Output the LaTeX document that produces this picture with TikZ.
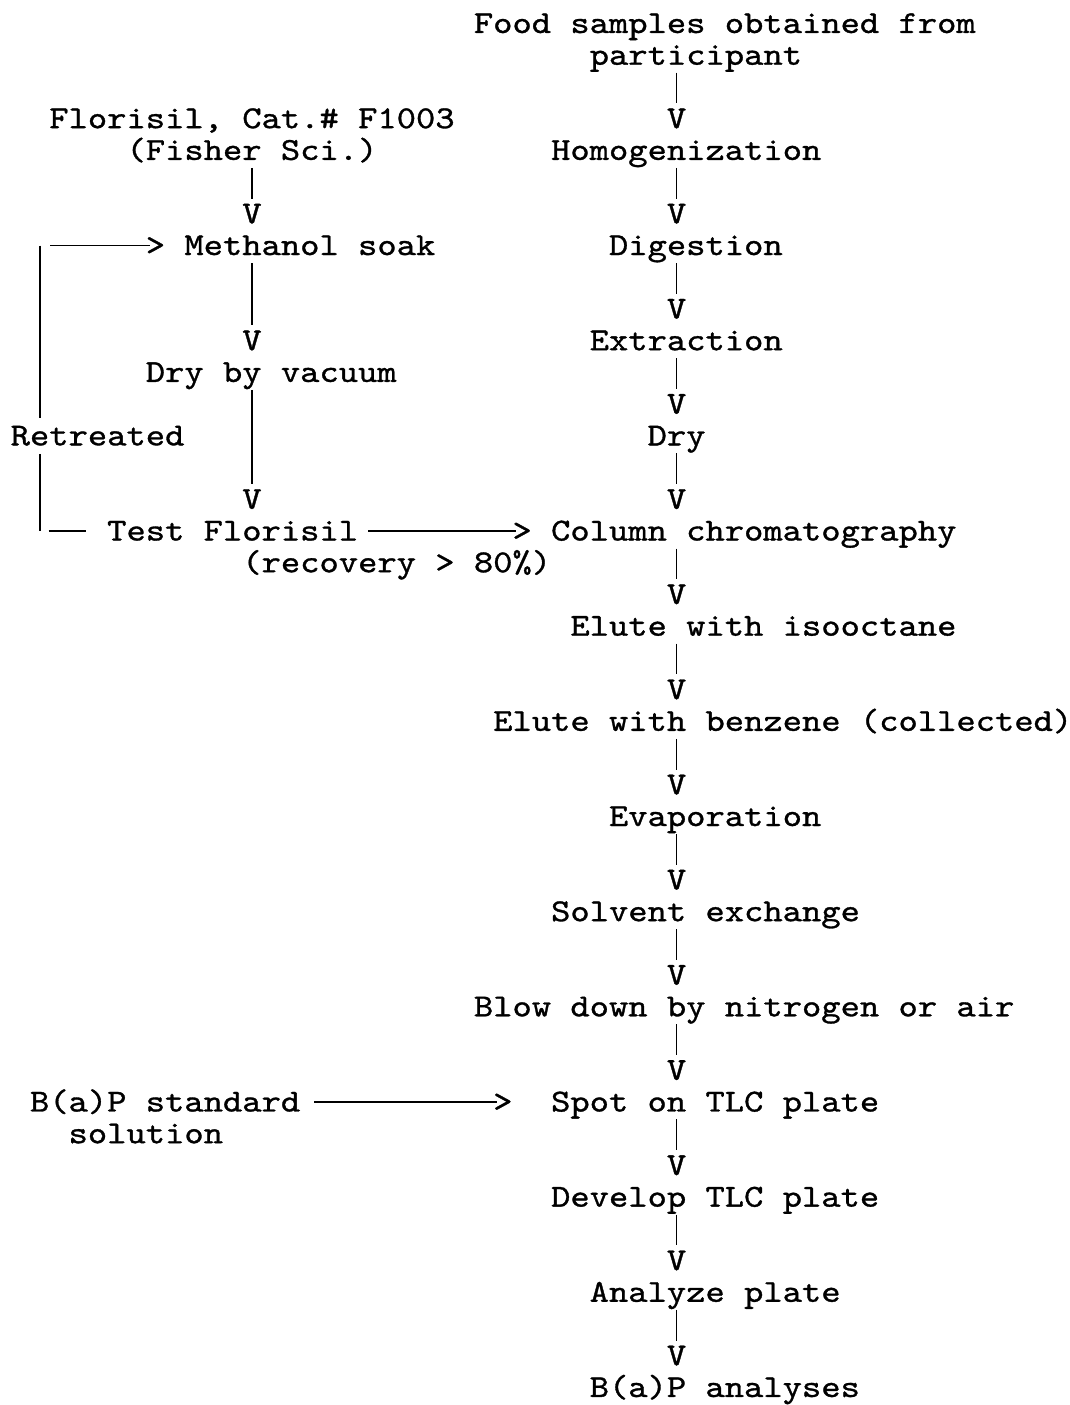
\documentclass[tikz,border=0pt]{standalone}
\usepackage{fontspec}
\usetikzlibrary{calc}
\newfontfamily\mono{lmmono10-regular.otf}[FakeStretch=1.149,FakeBold=1.0]
\newcommand\vconn[2]{\draw[ln] ($(#1.base -| #2.north)+(0pt,-8pt)$) -- ($(#2.north)+(0pt,5pt)$);}
\begin{document}
\begin{tikzpicture}[x=19.3pt,y=-31.72pt,
  t/.style={anchor=base west,inner sep=0pt,font=\mono\fontsize{32}{38}\selectfont},
  ln/.style={line width=1.8pt}]
\useasboundingbox (0pt,0pt) rectangle (1070pt,-1405pt);
\begin{scope}[shift={(10.5pt,-33pt)}]
% right column
\node[t] (food) at (24,0) {Food samples obtained from};
\node[t] (part) at (30,1) {participant};
\node[t] (v1) at (34,3) {V};
\node[t] (homo) at (28,4) {Homogenization};
\node[t] (v2) at (34,6) {V};
\node[t] (dig) at (31,7) {Digestion};
\node[t] (v3) at (34,9) {V};
\node[t] (ext) at (30,10) {Extraction};
\node[t] (v4) at (34,12) {V};
\node[t] (dry) at (33,13) {Dry};
\node[t] (v5) at (34,15) {V};
\node[t] (col) at (28,16) {Column chromatography};
\node[t] (v6) at (34,18) {V};
\node[t] (iso) at (29,19) {Elute with isooctane};
\node[t] (v7) at (34,21) {V};
\node[t] (benz) at (25,22) {Elute with benzene (collected)};
\node[t] (v8) at (34,24) {V};
\node[t] (evap) at (31,25) {Evaporation};
\node[t] (v9) at (34,27) {V};
\node[t] (solv) at (28,28) {Solvent exchange};
\node[t] (v10) at (34,30) {V};
\node[t] (blow) at (24,31) {Blow down by nitrogen or air};
\node[t] (v11) at (34,33) {V};
\node[t] (spot) at (28,34) {Spot on TLC plate};
\node[t] (v12) at (34,36) {V};
\node[t] (dev) at (28,37) {Develop TLC plate};
\node[t] (v13) at (34,39) {V};
\node[t] (ana) at (30,40) {Analyze plate};
\node[t] (v14) at (34,42) {V};
\node[t] (res) at (30,43) {B(a)P analyses};
% left column
\node[t] (flo) at (2,3) {Florisil, Cat.\# F1003};
\node[t] (fis) at (6,4) {(Fisher Sci.)};
\node[t] (lv1) at (12,6) {V};
\node[t] (gt1) at (7,7) {>};
\node[t] (meth) at (9,7) {Methanol soak};
\node[t] (lv2) at (12,10) {V};
\node[t] (vac) at (7,11) {Dry by vacuum};
\node[t,inner ysep=8pt] (ret) at (0,13) {Retreated};
\node[t] (lv3) at (12,15) {V};
\node[t] (tf) at (5,16) {Test Florisil};
\node[t] (gt2) at (26,16) {>};
\node[t] (rec) at (12,17) {(recovery > 80\%)};
\node[t] (bap) at (1,34) {B(a)P standard};
\node[t] (sol) at (3,35) {solution};
\node[t] (gt3) at (25,34) {>};
% vertical connectors
\vconn{part}{v1}
\vconn{homo}{v2}
\vconn{dig}{v3}
\vconn{ext}{v4}
\vconn{dry}{v5}
\vconn{col}{v6}
\vconn{iso}{v7}
\vconn{benz}{v8}
\vconn{evap}{v9}
\vconn{solv}{v10}
\vconn{blow}{v11}
\vconn{spot}{v12}
\vconn{dev}{v13}
\vconn{ana}{v14}
\vconn{fis}{lv1}
\vconn{meth}{lv2}
\vconn{vac}{lv3}
% retreat loop
\coordinate (lt) at ($(0,7)+(29.5pt,9.5pt)$);
\coordinate (lb) at ($(0,16)+(29.5pt,9.5pt)$);
\coordinate (lt2) at ($(0,7)+(39.5pt,9.5pt)$);
\coordinate (lb2) at ($(0,16)+(38pt,9.5pt)$);
\coordinate (lb3) at ($(0,16)+(75pt,9.5pt)$);
\draw[ln] (lt) -- (lt |- ret.north);
\draw[ln] (lt |- ret.south) -- (lb);
\draw[ln] (lt2) -- ($(gt1.base west)+(4pt,9.5pt)$);
\draw[ln] (lb2) -- (lb3);
% horizontal arrows
\draw[ln] ($(tf.base east)+(10pt,9.5pt)$) -- ($(gt2.base west)+(4pt,9.5pt)$);
\draw[ln] ($(bap.base east)+(14pt,9.5pt)$) -- ($(gt3.base west)+(4pt,9.5pt)$);
\end{scope}
\end{tikzpicture}
\end{document}
